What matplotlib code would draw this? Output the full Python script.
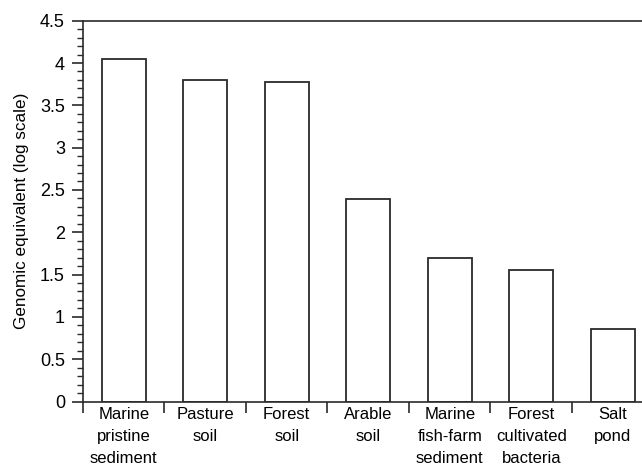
import matplotlib
matplotlib.use("Agg")
import matplotlib.pyplot as plt
import numpy as np

plt.rcParams['font.family'] = ['Liberation Sans', 'DejaVu Sans']

categories = ["Marine\npristine\nsediment", "Pasture\nsoil", "Forest\nsoil",
              "Arable\nsoil", "Marine\nfish-farm\nsediment",
              "Forest\ncultivated\nbacteria", "Salt\npond"]
values = [4.05, 3.80, 3.78, 2.39, 1.70, 1.55, 0.86]
ytick_vals = [0, 0.5, 1, 1.5, 2, 2.5, 3, 3.5, 4, 4.5]
ytick_labels = ["0", "0.5", "1", "1.5", "2", "2.5", "3", "3.5", "4", "4.5"]

fig = plt.figure(figsize=(6.42, 4.69), dpi=100)
ax = fig.add_axes([83/642, 1 - 401.5/469, 1 - 83/642, (401.5 - 20.7)/469])

x = np.arange(len(values)) + 0.5
ax.bar(x, values, width=0.54, facecolor="white", edgecolor="#2a2a2a", linewidth=1.3)

ax.set_xlim(0, 559/81.5)
ax.set_ylim(0, 4.5)

# boundary ticks between categories, labels centred in each slot
ax.set_xticks(np.arange(len(values)))
ax.set_xticklabels([])
ax.set_xticks(x, minor=True)
ax.set_xticklabels(categories, minor=True, fontsize=12, linespacing=1.6)
ax.tick_params(axis="x", which="major", direction="out", length=8, width=1.2, color="#2a2a2a")
ax.tick_params(axis="x", which="minor", length=0, pad=4)

ax.set_yticks(ytick_vals)
ax.set_yticklabels(ytick_labels, fontsize=13)
ax.set_yticks(np.arange(0, 4.51, 0.1), minor=True)
ax.tick_params(axis="y", which="major", direction="out", length=8, width=1.2, color="#2a2a2a", pad=5)
ax.tick_params(axis="y", which="minor", direction="out", length=4.5, width=1.0, color="#2a2a2a")

ax.set_ylabel("Genomic equivalent (log scale)", fontsize=12.3, labelpad=8)

for side in ["left", "bottom", "top"]:
    ax.spines[side].set_linewidth(1.2)
    ax.spines[side].set_color("#2a2a2a")
ax.spines["right"].set_visible(False)

fig.savefig("out.png", dpi=100)
